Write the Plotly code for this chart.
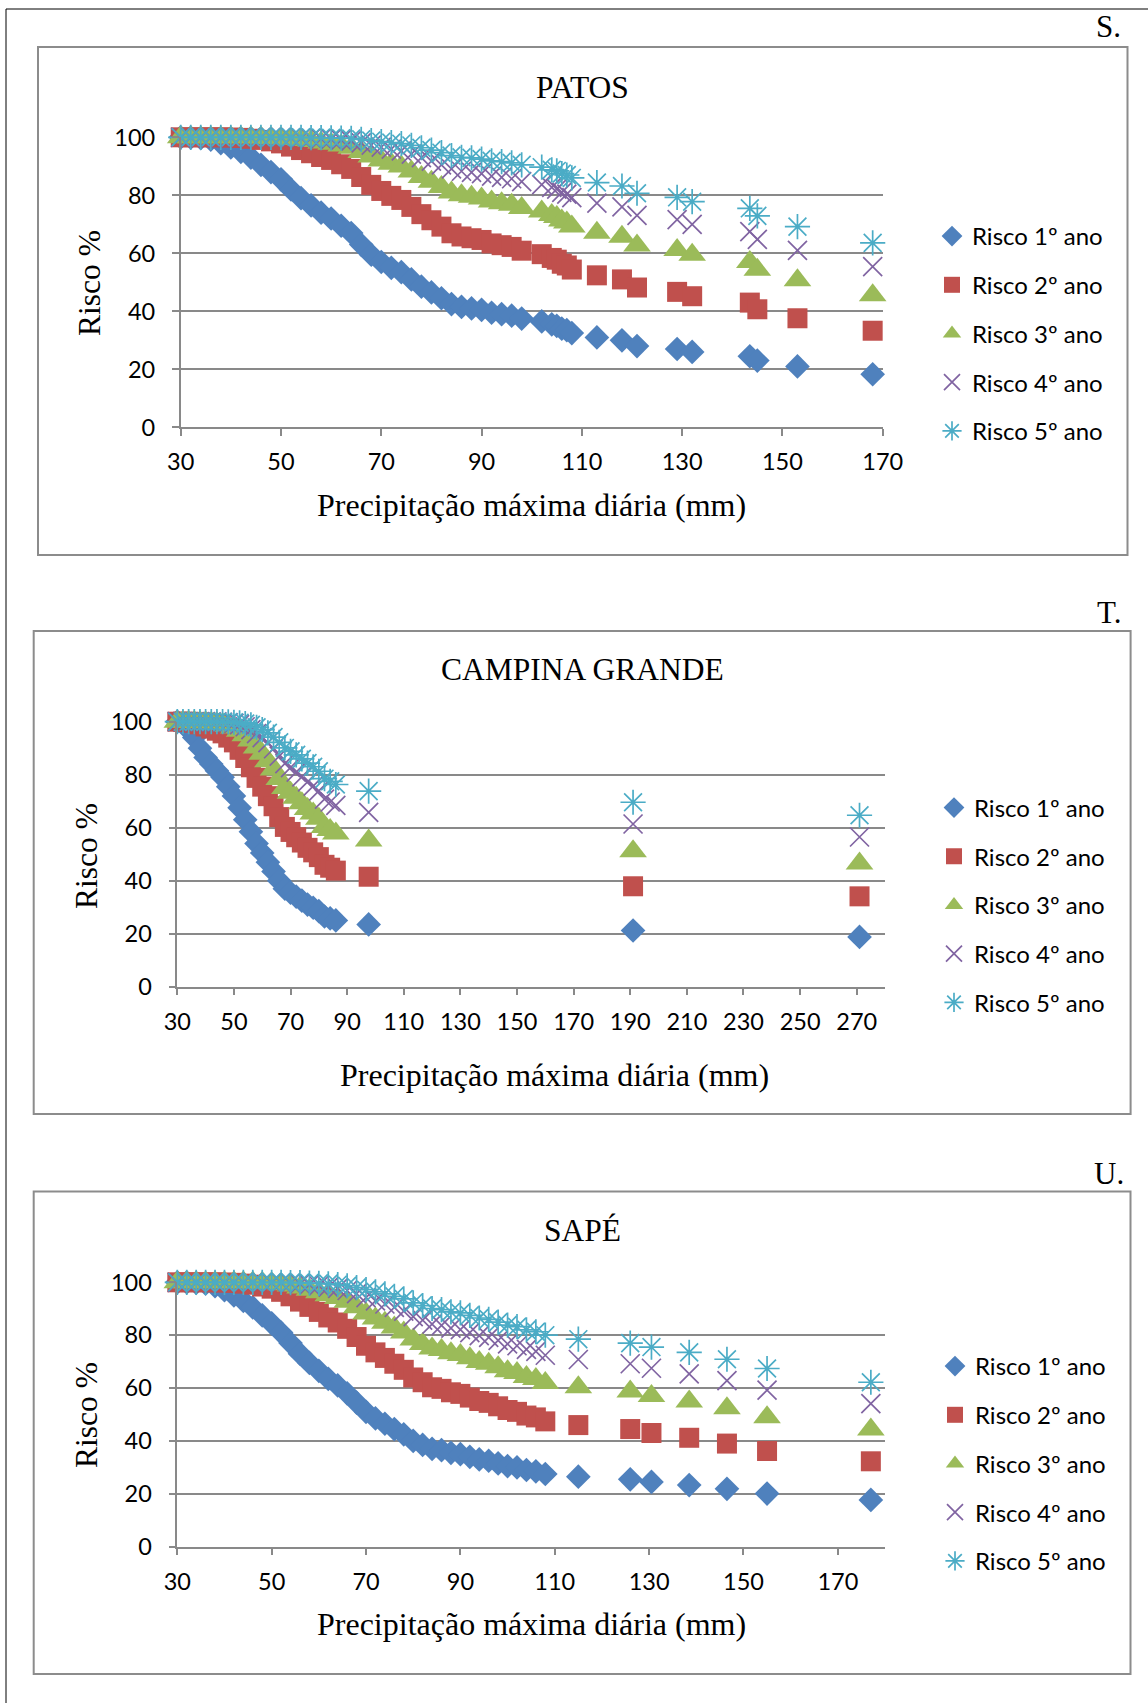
import plotly.graph_objects as go

W, H = 1148, 1703


def px(x):
    return x / W


def py(y):
    return 1 - y / H


# ---------------- DATA ----------------
# PATOS
patos_x = [30, 32, 34, 36, 38, 40, 42, 44, 46, 48, 50, 52, 54, 56, 58, 60, 62, 64, 66, 68,
           70, 72, 74, 76, 78, 80, 82, 84, 86, 88, 90, 92, 94, 96, 98, 102, 104, 105, 106, 107,
           108, 113, 118, 121, 129, 132, 143.5, 145, 153, 168]
patos_r1 = [100, 99.9, 99.7, 99.2, 98, 96.5, 95, 93, 90.5, 88, 85.5, 82, 79, 76.5, 74, 72, 69.5, 67, 63, 59.5,
            57, 55, 53.5, 51, 48.5, 46.5, 44.5, 42.5, 41.5, 41, 40.5, 39.5, 39, 38.5, 37.5, 36.5, 35.5, 35, 34, 33.5,
            32.5, 31, 30, 28, 27, 26, 24.5, 23, 21, 18.3]
patos_r2 = [100, 100, 100, 100, 100, 99.9, 99.8, 99.5, 99.1, 98.6, 97.9, 96.8, 95.6, 94.5, 93.2, 92.2, 90.7, 89.1, 86.3, 83.6,
            81.5, 79.8, 78.4, 76.0, 73.5, 71.4, 69.2, 66.9, 65.8, 65.2, 64.6, 63.4, 62.8, 62.2, 60.9, 59.7, 58.4, 57.8, 56.4, 55.8,
            54.4, 52.4, 51.0, 48.2, 46.7, 45.2, 43.0, 40.7, 37.6, 33.3]
patos_r3 = [100, 100, 100, 100, 100, 100, 100, 100, 99.9, 99.8, 99.7, 99.4, 99.1, 98.7, 98.2, 97.8, 97.2, 96.4, 94.9, 93.4,
            92.0, 90.9, 89.9, 88.2, 86.3, 84.7, 82.9, 81.0, 80.0, 79.5, 78.9, 77.9, 77.3, 76.7, 75.6, 74.4, 73.2, 72.5, 71.3, 70.6,
            69.2, 67.1, 65.7, 62.7, 61.1, 59.5, 57.0, 54.3, 50.7, 45.5]
patos_r4 = [100, 100, 100, 100, 100, 100, 100, 100, 100, 100, 100, 99.9, 99.8, 99.7, 99.5, 99.4, 99.1, 98.8, 98.1, 97.3,
            96.6, 95.9, 95.3, 94.2, 93.0, 91.8, 90.5, 89.1, 88.3, 87.9, 87.5, 86.6, 86.2, 85.7, 84.7, 83.7, 82.7, 82.1, 81.0, 80.4,
            79.2, 77.3, 76.0, 73.1, 71.6, 70.0, 67.5, 64.8, 61.0, 55.4]
patos_r5 = [100, 100, 100, 100, 100, 100, 100, 100, 100, 100, 100, 100, 100, 99.9, 99.9, 99.8, 99.7, 99.6, 99.3, 98.9,
            98.5, 98.2, 97.8, 97.2, 96.4, 95.6, 94.7, 93.7, 93.1, 92.9, 92.5, 91.9, 91.6, 91.2, 90.5, 89.7, 88.8, 88.4, 87.5, 87.0,
            86.0, 84.4, 83.2, 80.7, 79.3, 77.8, 75.5, 72.9, 69.2, 63.6]

# CAMPINA GRANDE
cg_x = [30, 32, 34, 36, 38, 40, 42, 44, 46, 48, 50, 52, 54, 56, 58, 60, 62, 64, 66, 68,
        70, 72, 74, 76, 78, 80, 82, 84, 86, 97.6, 191, 271]
cg_r1 = [100, 99.5, 97, 94, 90, 86.5, 84, 81.5, 79, 75.5, 72, 67.5, 63, 58.5, 54, 50.5, 47, 43.5, 40, 37,
         35.5, 34, 32.5, 31, 29.8, 28.5, 26.5, 25.8, 25, 23.5, 21.2, 18.8]
cg_r2 = [100, 100, 99.9, 99.6, 99.0, 98.2, 97.4, 96.6, 95.6, 94.0, 92.2, 89.4, 86.3, 82.8, 78.8, 75.5, 71.9, 68.1, 64.0, 60.3,
         58.4, 56.4, 54.4, 52.4, 50.7, 48.9, 46.0, 44.9, 43.8, 41.5, 37.9, 34.1]
cg_r3 = [100, 100, 100, 100, 99.9, 99.8, 99.6, 99.4, 99.1, 98.5, 97.8, 96.6, 94.9, 92.9, 90.3, 87.9, 85.1, 82.0, 78.4, 75.0,
         73.2, 71.3, 69.2, 67.1, 65.4, 63.4, 60.3, 59.1, 57.8, 55.2, 51.1, 46.5]
cg_r4 = [100, 100, 100, 100, 100, 100, 99.9, 99.9, 99.8, 99.6, 99.4, 98.9, 98.1, 97.0, 95.5, 94.0, 92.1, 89.8, 87.0, 84.2,
         82.7, 81.0, 79.2, 77.3, 75.7, 73.9, 70.8, 69.7, 68.4, 65.8, 61.4, 56.5]
cg_r5 = [100, 100, 100, 100, 100, 100, 100, 100, 100, 99.9, 99.8, 99.6, 99.3, 98.8, 97.9, 97.0, 95.8, 94.2, 92.2, 90.1,
         88.8, 87.5, 86.0, 84.4, 83.0, 81.3, 78.5, 77.5, 76.3, 73.8, 69.6, 64.7]

# SAPÉ
sape_x = [30, 32, 34, 36, 38, 40, 42, 44, 46, 48, 50, 52, 54, 56, 58, 60, 62, 64, 66, 68,
          70, 72, 74, 76, 78, 80, 82, 84, 86, 88, 90, 92, 94, 96, 98, 100, 102, 104, 106, 108,
          115, 126, 130.5, 138.5, 146.5, 155, 177]
sape_r1 = [100, 100, 99.8, 99.5, 98.5, 97, 95, 93, 90.5, 87.5, 84.5, 81, 77, 73, 69.5, 66.5, 63.5, 61, 58, 54.5,
           51, 48.5, 46.5, 44.5, 42.5, 40, 38.5, 37, 36.5, 35.5, 35, 34, 33, 32.5, 31.5, 30.5, 30, 29, 28.5, 27.5,
           26.5, 25.5, 24.5, 23.3, 21.9, 20.1, 17.7]
sape_r2 = [100, 100, 100, 100, 100, 99.9, 99.8, 99.5, 99.1, 98.4, 97.6, 96.4, 94.7, 92.7, 90.7, 88.8, 86.7, 84.8, 82.4, 79.3,
           76.0, 73.5, 71.4, 69.2, 66.9, 64.0, 62.2, 60.3, 59.7, 58.4, 57.8, 56.4, 55.1, 54.4, 53.1, 51.7, 51.0, 49.6, 48.9, 47.4,
           46.0, 44.5, 43.0, 41.2, 39.0, 36.2, 32.3]
sape_r3 = [100, 100, 100, 100, 100, 100, 100, 100, 99.9, 99.8, 99.6, 99.3, 98.8, 98.0, 97.2, 96.2, 95.1, 94.1, 92.6, 90.6,
           88.2, 86.3, 84.7, 82.9, 81.0, 78.4, 76.7, 75.0, 74.4, 73.2, 72.5, 71.3, 69.9, 69.2, 67.9, 66.4, 65.7, 64.2, 63.4, 61.9,
           60.3, 58.7, 57.0, 54.9, 52.4, 49.0, 44.3]
sape_r4 = [100, 100, 100, 100, 100, 100, 100, 100, 100, 100, 99.9, 99.9, 99.7, 99.5, 99.1, 98.7, 98.2, 97.7, 96.9, 95.7,
           94.2, 93.0, 91.8, 90.5, 89.1, 87.0, 85.7, 84.2, 83.7, 82.7, 82.1, 81.0, 79.8, 79.2, 78.0, 76.7, 76.0, 74.6, 73.9, 72.4,
           70.8, 69.2, 67.5, 65.4, 62.8, 59.2, 54.1]
sape_r5 = [100, 100, 100, 100, 100, 100, 100, 100, 100, 100, 100, 100, 99.9, 99.9, 99.7, 99.6, 99.4, 99.1, 98.7, 98.0,
           97.2, 96.4, 95.6, 94.7, 93.7, 92.2, 91.2, 90.1, 89.7, 88.8, 88.4, 87.5, 86.5, 86.0, 84.9, 83.8, 83.2, 82.0, 81.3, 80.0,
           78.5, 77.0, 75.5, 73.5, 70.9, 67.4, 62.2]

series_names = ["Risco 1º ano", "Risco 2º ano", "Risco 3º ano", "Risco 4º ano", "Risco 5º ano"]
chart_titles = ["PATOS", "CAMPINA GRANDE", "SAPÉ"]
panel_labels = ["S.", "T.", "U."]
x_title = "Precipitação máxima diária (mm)"
y_title = "Risco %"
y_ticks = [0, 20, 40, 60, 80, 100]

# ---------------- STYLE ----------------
COLORS = ["#4F81BD", "#C0504D", "#9BBB59", "#8064A2", "#4BACC6"]
SYMBOLS = ["diamond", "square", "triangle-up", "x-thin-open", "asterisk-open"]
SIZES = [19, 20, 24, 19, 21]
GRAY = "#898989"
SANS = "Lato"
SERIF = "Liberation Serif"

charts = [
    dict(x=patos_x, ys=[patos_r1, patos_r2, patos_r3, patos_r4, patos_r5], xr=[30, 170],
         plot=(180.7, 882.7, 137.3, 427.3), box=(38, 1127.5, 47, 555),
         title_xy=(582, 87), label_xy=(1108, 27), xt_xy=(531, 505), yt_xy=(89, 283),
         leg_xy=(932, 214)),
    dict(x=cg_x, ys=[cg_r1, cg_r2, cg_r3, cg_r4, cg_r5], xr=[30, 280],
         plot=(177.3, 885, 721.7, 986.7), box=(33.7, 1130.6, 631, 1114),
         title_xy=(582, 670), label_xy=(1109, 612), xt_xy=(554, 1075), yt_xy=(86, 856),
         leg_xy=(934, 785.5)),
    dict(x=sape_x, ys=[sape_r1, sape_r2, sape_r3, sape_r4, sape_r5], xr=[30, 180],
         plot=(177.3, 885, 1282.3, 1546.7), box=(33.7, 1130.5, 1191.5, 1674),
         title_xy=(582, 1230), label_xy=(1109, 1173), xt_xy=(531, 1624), yt_xy=(86, 1415),
         leg_xy=(935, 1344)),
]

fig = go.Figure()
shapes = []
annotations = []
layout_axes = {}

for ci, ch in enumerate(charts):
    sfx = "" if ci == 0 else str(ci + 1)
    leg = "legend" + sfx
    for si in range(5):
        open_sym = SYMBOLS[si].endswith("open")
        fig.add_trace(go.Scatter(
            x=ch["x"], y=ch["ys"][si], mode="markers", name=series_names[si],
            xaxis="x" + sfx, yaxis="y" + sfx, legend=leg,
            legendgroup=f"c{ci}s{si}", cliponaxis=False,
            marker=dict(symbol=SYMBOLS[si], size=SIZES[si], color=COLORS[si],
                        line=dict(width=1.7 if open_sym else 0, color=COLORS[si])),
        ))
    x0, x1, y0, y1 = ch["plot"]
    layout_axes["xaxis" + sfx] = dict(
        domain=[px(x0), px(x1)], range=ch["xr"], tick0=30, dtick=20, showgrid=False,
        showline=True, linecolor=GRAY, linewidth=1.5, ticks="outside", ticklen=7,
        tickwidth=1.5, tickcolor=GRAY, zeroline=False, anchor="y" + sfx,
        tickfont=dict(family=SANS, size=23.5, color="black"), ticklabelstandoff=6,
        automargin=False, fixedrange=True)
    layout_axes["yaxis" + sfx] = dict(
        domain=[py(y1), py(y0)], range=[0, 100], tickvals=y_ticks, showgrid=True,
        gridcolor=GRAY, gridwidth=1.5, showline=True, linecolor=GRAY, linewidth=1.5,
        ticks="outside", ticklen=7, tickwidth=1.5, tickcolor=GRAY, zeroline=False,
        anchor="x" + sfx, tickfont=dict(family=SANS, size=23.5, color="black"),
        ticklabelstandoff=12, automargin=False, fixedrange=True)
    lx, ly = ch["leg_xy"]
    layout_axes[leg] = dict(
        x=px(lx), y=py(ly), xanchor="left", yanchor="top", traceorder="grouped",
        tracegroupgap=14.5, bgcolor="rgba(0,0,0,0)", borderwidth=0,
        font=dict(family=SANS, size=24, color="black"))
    bx0, bx1, by0, by1 = ch["box"]
    shapes.append(dict(type="rect", xref="paper", yref="paper", x0=px(bx0), x1=px(bx1),
                       y0=py(by1), y1=py(by0), line=dict(color="#8c8c8c", width=2)))
    tx, ty = ch["title_xy"]
    annotations.append(dict(text=chart_titles[ci], x=px(tx), y=py(ty), xref="paper", yref="paper",
                            showarrow=False, xanchor="center", yanchor="middle",
                            font=dict(family=SERIF, size=31.5, color="black")))
    lbx, lby = ch["label_xy"]
    annotations.append(dict(text=panel_labels[ci], x=px(lbx), y=py(lby), xref="paper", yref="paper",
                            showarrow=False, xanchor="center", yanchor="middle",
                            font=dict(family=SERIF, size=31, color="black")))
    xtx, xty = ch["xt_xy"]
    annotations.append(dict(text=x_title, x=px(xtx), y=py(xty), xref="paper", yref="paper",
                            showarrow=False, xanchor="center", yanchor="middle",
                            font=dict(family=SERIF, size=32, color="black")))
    ytx, yty = ch["yt_xy"]
    annotations.append(dict(text=y_title, x=px(ytx), y=py(yty), xref="paper", yref="paper",
                            showarrow=False, xanchor="center", yanchor="middle", textangle=-90,
                            font=dict(family=SERIF, size=31.5, color="black")))

# page frame (top and left edges)
shapes.append(dict(type="line", xref="paper", yref="paper", x0=px(6), x1=1, y0=py(9), y1=py(9),
                   line=dict(color="black", width=1)))
shapes.append(dict(type="line", xref="paper", yref="paper", x0=px(6), x1=px(6), y0=0, y1=py(9),
                   line=dict(color="black", width=1)))

fig.update_layout(
    width=W, height=H, margin=dict(l=0, r=0, t=0, b=0, pad=0, autoexpand=False),
    paper_bgcolor="white", plot_bgcolor="white", showlegend=True,
    shapes=shapes, annotations=annotations, **layout_axes,
)

post = ("document.documentElement.style.margin='0';document.body.style.margin='0';"
        "document.body.style.padding='0';document.documentElement.style.overflow='hidden';"
        "document.body.style.overflow='hidden';")

fig.write_html("out.html", include_plotlyjs=True, config={"displayModeBar": False},
               post_script=post)
